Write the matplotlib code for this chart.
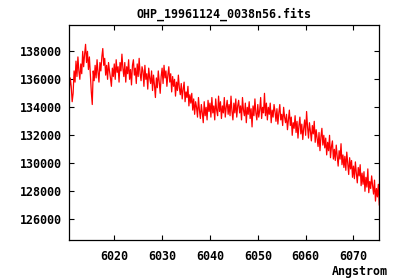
import numpy as np
import matplotlib
matplotlib.use("Agg")
import matplotlib.pyplot as plt

# Wavelength grid start/step (Angstrom) and flux values in units of 100 counts
wl_start = 6010.0
wl_step = 0.2
flux_hundreds = [
    1360, 1349, 1358, 1352, 1361, 1355, 1344, 1350, 1366, 1358,
    1373, 1362, 1376, 1366, 1360, 1371, 1364, 1380, 1369, 1378,
    1385, 1372, 1380, 1367, 1376, 1363, 1351, 1342, 1366, 1359,
    1370, 1361, 1374, 1365, 1358, 1372, 1366, 1376, 1382, 1370,
    1375, 1363, 1370, 1360, 1372, 1366, 1361, 1355, 1368, 1362,
    1371, 1360, 1374, 1365, 1369, 1358, 1372, 1366, 1378, 1368,
    1362, 1372, 1358, 1369, 1364, 1374, 1360, 1367, 1356, 1370,
    1374, 1363, 1368, 1357, 1371, 1362, 1375, 1364, 1359, 1369,
    1366, 1355, 1370, 1360, 1364, 1353, 1368, 1361, 1357, 1366,
    1352, 1363, 1356, 1347, 1361, 1354, 1366, 1358, 1350, 1362,
    1368, 1357, 1370, 1361, 1366, 1355, 1363, 1369, 1358, 1364,
    1351, 1362, 1355, 1360, 1348, 1358, 1352, 1363, 1354, 1349,
    1357, 1346, 1353, 1358, 1344, 1351, 1347, 1355, 1341, 1349,
    1343, 1350, 1338, 1346, 1335, 1344, 1340, 1333, 1347, 1338,
    1332, 1342, 1336, 1329, 1344, 1334, 1340, 1331, 1345, 1337,
    1343, 1333, 1347, 1336, 1341, 1331, 1346, 1338, 1334, 1348,
    1337, 1344, 1332, 1341, 1336, 1347, 1333, 1340, 1345, 1335,
    1342, 1334, 1348, 1337, 1331, 1343, 1336, 1346, 1333, 1341,
    1345, 1336, 1341, 1331, 1347, 1338, 1334, 1343, 1329, 1340,
    1335, 1344, 1332, 1339, 1326, 1341, 1334, 1346, 1336, 1331,
    1342, 1333, 1338, 1347, 1332, 1340, 1336, 1350, 1334, 1343,
    1331, 1340, 1335, 1343, 1329, 1338, 1333, 1342, 1337, 1330,
    1339, 1328, 1336, 1342, 1331, 1335, 1327, 1340, 1333, 1329,
    1335, 1324, 1331, 1338, 1327, 1333, 1320, 1329, 1325, 1334,
    1322, 1330, 1318, 1327, 1333, 1321, 1328, 1317, 1325, 1331,
    1320, 1337, 1326, 1318, 1329, 1323, 1316, 1327, 1321, 1330,
    1315, 1324, 1318, 1312, 1322, 1309, 1319, 1325, 1313, 1320,
    1311, 1318, 1306, 1315, 1309, 1320, 1304, 1312, 1316, 1303,
    1310, 1302, 1313, 1305, 1298, 1309, 1303, 1314, 1299, 1306,
    1297, 1305, 1295, 1308, 1300, 1292, 1304, 1296, 1302, 1290,
    1298, 1289, 1301, 1293, 1286, 1297, 1291, 1299, 1284, 1293,
    1285, 1294, 1280, 1290, 1283, 1296, 1279, 1287, 1282, 1291,
    1284, 1278, 1288, 1273, 1282, 1276, 1285, 1270, 1279, 1272,
]
x_ticks = [6020, 6030, 6040, 6050, 6060, 6070]
y_ticks = [126000, 128000, 130000, 132000, 134000, 136000, 138000]
title = "OHP_19961124_0038n56.fits"
x_label = "Angstrom"

flux = np.array(flux_hundreds) * 100.0
wl = wl_start + wl_step * np.arange(len(flux))

font = dict(family="DejaVu Sans Mono", weight="bold", size=8.4)

fig = plt.figure(figsize=(4, 2.8), dpi=100)
ax = fig.add_axes([69.3 / 400, 1 - 240 / 280, (379.3 - 69.3) / 400, (240 - 25.3) / 280])
ax.plot(wl, flux, color="#ff0000", lw=0.9)
ax.set_xlim(6010.6, 6075.4)
ax.set_ylim(124520, 139860)
ax.set_xticks(x_ticks)
ax.set_yticks(y_ticks)
ax.set_xticklabels([str(v) for v in x_ticks], fontdict=font)
ax.set_yticklabels([str(v) for v in y_ticks], fontdict=font)
ax.tick_params(direction="in", length=3.6, width=0.8, top=True, right=True, pad=5)
ax.tick_params(axis="x", pad=7)
for s in ax.spines.values():
    s.set_linewidth(0.9)

fig.text(224 / 400, 1 - 14 / 280, title, ha="center", va="center", **font)
fig.text(388 / 400, 1 - 271 / 280, x_label, ha="right", va="center", **font)

fig.savefig("out.png", dpi=100)
